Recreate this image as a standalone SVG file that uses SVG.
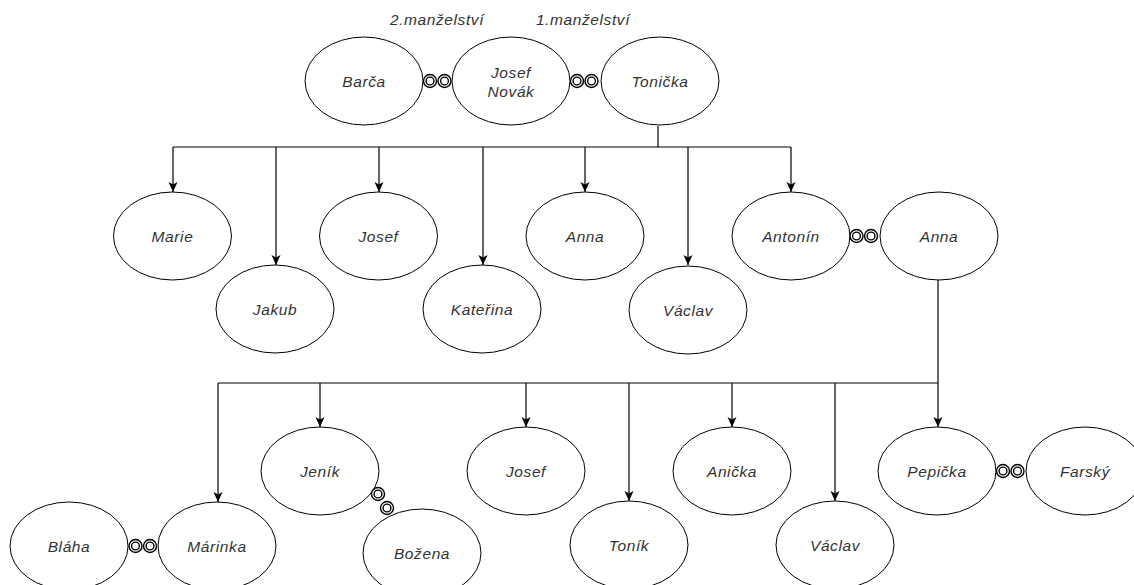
<svg xmlns="http://www.w3.org/2000/svg" width="1134" height="585" viewBox="0 0 1134 585">
<defs>
<style>
.n ellipse{fill:#fff;stroke:#000;stroke-width:1}
.n text{font-family:"Liberation Sans",Arial,sans-serif;font-style:italic;font-size:15.5px;letter-spacing:0.6px;fill:#333;text-anchor:middle;dominant-baseline:central}
.lbl{font-family:"Liberation Sans",Arial,sans-serif;font-style:italic;font-size:15.5px;letter-spacing:0.6px;fill:#333;text-anchor:middle}
.c path{fill:none;stroke:#000;stroke-width:1.2}
</style>
<marker id="arr" viewBox="0 0 10 10" refX="10" refY="5" markerWidth="10" markerHeight="10" markerUnits="userSpaceOnUse" orient="auto">
<path d="M0,0.5 L10,5 L0,9.5 L2.5,5 Z" fill="#000"/>
</marker>
<g id="rg" fill="#fff" stroke="#000" stroke-width="1.4"><circle r="6.5"/><circle r="3.9"/></g>
</defs>
<rect width="1134" height="585" fill="#fff"/>
<text class="lbl" x="437" y="25">2.manželství</text>
<text class="lbl" x="583" y="25">1.manželství</text>
<g class="c" id="connectors">
<path d="M658,126 V147"/>
<path d="M173,147 H791"/>
<path d="M173,147 V192" marker-end="url(#arr)"/>
<path d="M276,147 V265" marker-end="url(#arr)"/>
<path d="M379,147 V192" marker-end="url(#arr)"/>
<path d="M483,147 V265" marker-end="url(#arr)"/>
<path d="M585,147 V192" marker-end="url(#arr)"/>
<path d="M688,147 V265" marker-end="url(#arr)"/>
<path d="M791,147 V192" marker-end="url(#arr)"/>
<path d="M938,280 V383"/>
<path d="M218,383 H938"/>
<path d="M218,383 V502" marker-end="url(#arr)"/>
<path d="M320,383 V427" marker-end="url(#arr)"/>
<path d="M526,383 V427" marker-end="url(#arr)"/>
<path d="M629,383 V501" marker-end="url(#arr)"/>
<path d="M732,383 V427" marker-end="url(#arr)"/>
<path d="M835,383 V501" marker-end="url(#arr)"/>
<path d="M938,383 V427" marker-end="url(#arr)"/>
</g>
<g class="n" id="barca"><ellipse cx="364" cy="81" rx="59" ry="44"/><text x="364" y="81">Barča</text></g>
<g class="n" id="josefnovak"><ellipse cx="511" cy="81" rx="59" ry="44"/><text x="511" y="72">Josef</text><text x="511" y="91">Novák</text></g>
<g class="n" id="tonicka"><ellipse cx="660" cy="81" rx="59" ry="44"/><text x="660" y="81">Tonička</text></g>
<g class="n" id="marie"><ellipse cx="172.5" cy="236" rx="59" ry="44"/><text x="172.5" y="236">Marie</text></g>
<g class="n" id="jakub"><ellipse cx="275" cy="309" rx="59" ry="44"/><text x="275" y="309">Jakub</text></g>
<g class="n" id="josef1"><ellipse cx="378.5" cy="236" rx="59" ry="44"/><text x="378.5" y="236">Josef</text></g>
<g class="n" id="katerina"><ellipse cx="482" cy="309" rx="59" ry="44"/><text x="482" y="309">Kateřina</text></g>
<g class="n" id="anna1"><ellipse cx="585" cy="236" rx="59" ry="44"/><text x="585" y="236">Anna</text></g>
<g class="n" id="vaclav1"><ellipse cx="688" cy="310" rx="59" ry="44"/><text x="688" y="310">Václav</text></g>
<g class="n" id="antonin"><ellipse cx="791" cy="236" rx="59" ry="44"/><text x="791" y="236">Antonín</text></g>
<g class="n" id="anna2"><ellipse cx="939" cy="236" rx="59" ry="44"/><text x="939" y="236">Anna</text></g>
<g class="n" id="blaha"><ellipse cx="69" cy="546" rx="59" ry="44"/><text x="69" y="546">Bláha</text></g>
<g class="n" id="marinka"><ellipse cx="217" cy="546" rx="59" ry="44"/><text x="217" y="546">Márinka</text></g>
<g class="n" id="jenik"><ellipse cx="320" cy="471" rx="59" ry="44"/><text x="320" y="471">Jeník</text></g>
<g class="n" id="bozena"><ellipse cx="422" cy="553" rx="59" ry="44"/><text x="422" y="553">Božena</text></g>
<g class="n" id="josef2"><ellipse cx="526" cy="471" rx="59" ry="44"/><text x="526" y="471">Josef</text></g>
<g class="n" id="tonik"><ellipse cx="629" cy="545" rx="59" ry="44"/><text x="629" y="545">Toník</text></g>
<g class="n" id="anicka"><ellipse cx="732" cy="471" rx="59" ry="44"/><text x="732" y="471">Anička</text></g>
<g class="n" id="vaclav2"><ellipse cx="835" cy="545" rx="59" ry="44"/><text x="835" y="545">Václav</text></g>
<g class="n" id="pepicka"><ellipse cx="937" cy="471" rx="59" ry="44"/><text x="937" y="471">Pepička</text></g>
<g class="n" id="farsky"><ellipse cx="1085" cy="471" rx="59" ry="44"/><text x="1085" y="471">Farský</text></g>
<g id="rings">
<use href="#rg" x="430" y="81"/><use href="#rg" x="444.5" y="81"/>
<use href="#rg" x="577" y="81"/><use href="#rg" x="591.5" y="81"/>
<use href="#rg" x="856.5" y="236"/><use href="#rg" x="871" y="236"/>
<use href="#rg" x="135.5" y="546"/><use href="#rg" x="150" y="546"/>
<use href="#rg" x="1003" y="471"/><use href="#rg" x="1017.5" y="471"/>
<use href="#rg" x="378" y="494"/><use href="#rg" x="387" y="508"/>
</g>
</svg>
